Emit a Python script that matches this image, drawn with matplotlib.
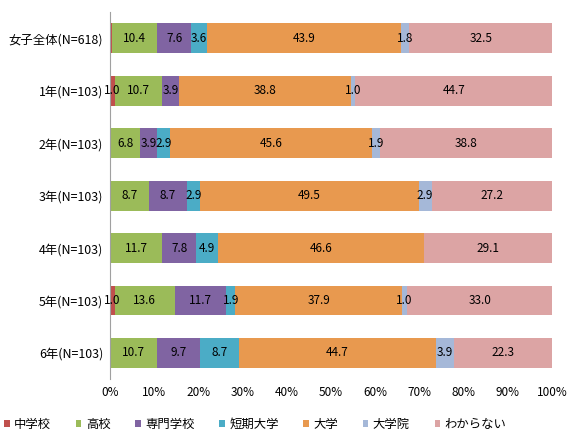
import matplotlib
matplotlib.use('Agg')
import matplotlib.pyplot as plt
import numpy as np

plt.rcParams['font.family'] = ['Noto Sans CJK JP', 'DejaVu Sans']

rows = ['女子全体(N=618)', '1年(N=103)', '2年(N=103)', '3年(N=103)',
        '4年(N=103)', '5年(N=103)', '6年(N=103)']
series = ['中学校', '高校', '専門学校', '短期大学', '大学', '大学院', 'わからない']
chugakko = [0.3, 1.0, 0.0, 0.0, 0.0, 1.0, 0.0]
koko = [10.4, 10.7, 6.8, 8.7, 11.7, 13.6, 10.7]
senmon = [7.6, 3.9, 3.9, 8.7, 7.8, 11.7, 9.7]
tandai = [3.6, 0.0, 2.9, 2.9, 4.9, 1.9, 8.7]
daigaku = [43.9, 38.8, 45.6, 49.5, 46.6, 37.9, 44.7]
daigakuin = [1.8, 1.0, 1.9, 2.9, 0.0, 1.0, 3.9]
wakaranai = [32.5, 44.7, 38.8, 27.2, 29.1, 33.0, 22.3]
values = [chugakko, koko, senmon, tandai, daigaku, daigakuin, wakaranai]
colors = ['#C0504D', '#9BBB59', '#8064A2', '#4BACC6', '#E8994F', '#A5B8D8', '#DCA4A4']

fig = plt.figure(figsize=(5.8, 4.44), dpi=100)
ax = fig.add_axes([0.19, 0.146, 0.762, 0.827])

y = np.arange(len(rows))
left = np.zeros(len(rows))
for name, vals, c in zip(series, values, colors):
    vals = np.array(vals)
    ax.barh(y, vals, left=left, height=0.57, color=c, label=name)
    for yi, l, v in zip(y, left, vals):
        if v >= 0.5:
            ax.text(l + v / 2, yi, f'{v:.1f}', ha='center', va='center',
                    fontsize=8.5, color='black')
    left += vals

ax.set_xlim(0, 100)
ax.set_ylim(6.5, -0.5)
ax.set_yticks(y)
ax.set_yticklabels(rows, fontsize=8.9)
ax.set_xticks(np.arange(0, 101, 10))
ax.set_xticklabels([f'{t}%' for t in range(0, 101, 10)], fontsize=8.5)
ax.tick_params(length=0, pad=5)
for s in ['top', 'right', 'bottom']:
    ax.spines[s].set_visible(False)
ax.spines['left'].set_color('#A0A0A0')

fig.legend(loc='lower center', bbox_to_anchor=(0.44, 0.005), ncol=7, frameon=False,
           fontsize=8.9, handlelength=0.45, handleheight=0.45, handletextpad=0.35,
           columnspacing=2.0)

fig.savefig('out.png', dpi=100)
